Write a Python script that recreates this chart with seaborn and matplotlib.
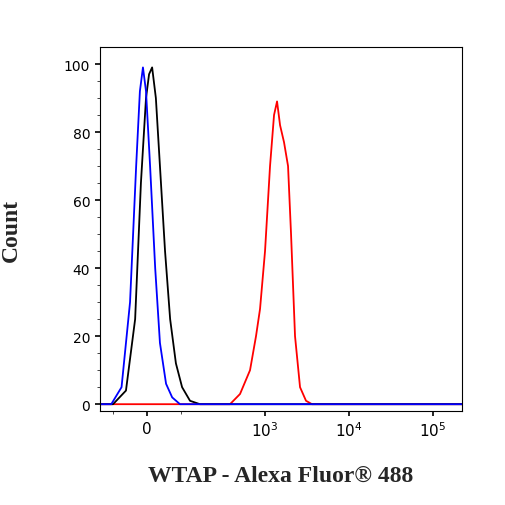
import matplotlib
matplotlib.use("Agg")
import matplotlib.pyplot as plt
import seaborn as sns
import pandas as pd

blue_x = [-143, -105, -75, -50, -32, -21, -12, -3, 9, 24, 38, 56, 74, 97, 221000]
blue_y = [0, 0, 5, 30, 70, 92, 99, 92, 70, 40, 18, 6, 2, 0, 0]
black_x = [-143, -100, -62, -35, -18, -3, 6, 15, 26, 38, 53, 68, 85, 103, 128, 168, 221000]
black_y = [0, 0, 4, 25, 65, 90, 97, 99, 90, 70, 45, 25, 12, 5, 1, 0, 0]
red_x = [-143, 383, 504, 663, 781, 872, 1000, 1147, 1280, 1390, 1510, 1683, 1879, 2040, 2275, 2610, 3075, 3625, 221000]
red_y = [0, 0, 3, 10, 20, 28, 45, 70, 85, 89, 82, 77, 70, 50, 20, 5, 1, 0, 0]

sns.set_style("ticks")
plt.rcParams['font.family'] = ['Liberation Serif', 'DejaVu Serif']

fig = plt.figure(figsize=(5.06, 5.06), dpi=100)
ax = fig.add_axes([100/506, 1-412/506, 362/506, 364/506])
for xs, ys, c in [(red_x, red_y, "red"), (black_x, black_y, "black"), (blue_x, blue_y, "blue")]:
    sns.lineplot(data=pd.DataFrame({"x": xs, "y": ys}), x="x", y="y", color=c, lw=1.3, ax=ax, sort=False)
ax.set_xscale("symlog", linthresh=100, linscale=0.364)
ax.set_xlim(-143, 221000)
ax.set_ylim(-2, 105)
ax.set_xticks([0, 1000, 10000, 100000])
ax.set_xticklabels(["0", "$10^3$", "$10^4$", "$10^5$"], fontsize=11, family="DejaVu Sans")
ax.set_yticks([0, 20, 40, 60, 80, 100])
ax.set_yticklabels(["0", "20", "40", "60", "80", "100"], fontsize=10, family="DejaVu Sans")
ax.set_yticks(range(0, 105, 5), minor=True)
ax.tick_params(colors="black", width=1.2)
ax.set_xlabel("WTAP - Alexa Fluor® 488", fontsize=17, fontweight="bold", labelpad=18)
ax.set_ylabel("Count", fontsize=17, fontweight="bold", labelpad=30)
for s in ax.spines.values():
    s.set_visible(True)
    s.set_color("black")
fig.savefig("out.png", dpi=100)
